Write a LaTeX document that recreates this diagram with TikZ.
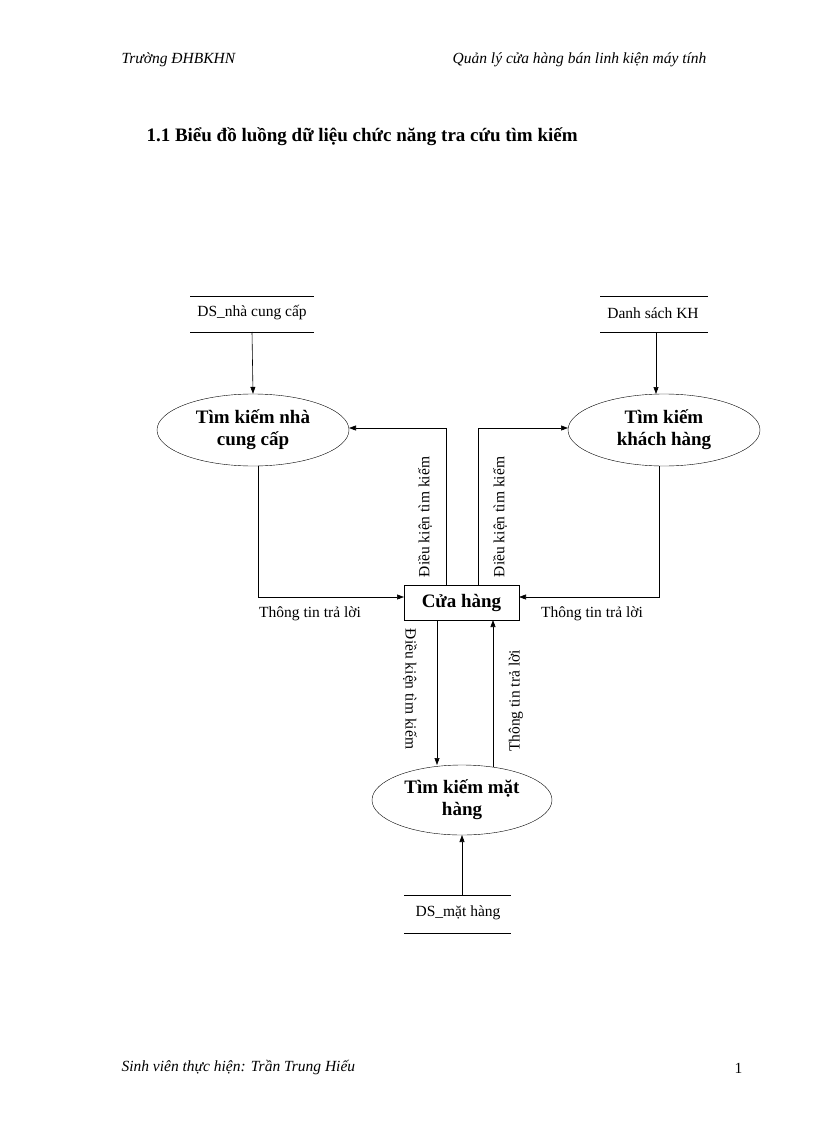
\documentclass[tikz,border=0pt]{standalone}
\usepackage{fontspec}
\setmainfont{Liberation Serif}
\usetikzlibrary{arrows.meta,shapes.geometric}
\begin{document}
\begin{tikzpicture}[x=1pt,y=-1pt,
  txt/.style={font=\fontsize{15.5}{18}\selectfont,inner sep=0},
  proc/.style={draw,ellipse,minimum width=192,minimum height=72,align=center,font=\fontsize{19}{22}\selectfont\bfseries,inner sep=0},
  flow/.style={-{Triangle[length=7pt,width=5pt]},line width=0.6pt},
  st/.style={line width=0.6pt}]
\useasboundingbox (0,0) rectangle (816,1123);
\node[font=\fontsize{15.5}{18}\selectfont\itshape,anchor=west] (h1) at (118,60) {Trường ĐHBKHN};
\node[font=\fontsize{15.5}{18}\selectfont\itshape,anchor=east] (h2) at (710,60) {Quản lý cửa hàng bán linh kiện máy tính};
\node[font=\fontsize{19}{22}\selectfont\bfseries,anchor=west] (t) at (143,137) {1.1 Biểu đồ luồng dữ liệu chức năng tra cứu tìm kiếm};
% stores
\draw[st] (190,296) -- (314,296) (190,332) -- (314,332);
\node[txt] (s1) at (252,313) {DS\_nhà cung cấp};
\draw[st] (600,296) -- (708,296) (600,332) -- (708,332);
\node[txt] (s2) at (653,313) {Danh sách KH};
\draw[st] (404,895) -- (511,895) (404,933) -- (511,933);
\node[txt] (s3) at (458,913) {DS\_mặt hàng};
% processes
\node[proc] (p1) at (253,430) {Tìm kiếm nhà\\cung cấp};
\node[proc] (p2) at (664,430) {Tìm kiếm\\khách hàng};
\node[proc,minimum width=180,minimum height=70] (p3) at (462,800) {Tìm kiếm mặt\\hàng};
\node[draw,line width=0.6pt,minimum width=115,minimum height=35,font=\fontsize{19}{22}\selectfont\bfseries,inner sep=0] (b) at (461.5,602.5) {Cửa hàng};
% flows
\draw[flow] (252,332) -- (p1.north);
\draw[flow] (656,332) -- (656,394);
\draw[flow] (462,895) -- (462,835);
\draw[flow] (446,585) -- (446,428) -- (349,428);
\draw[flow] (478,585) -- (478,428) -- (568,428);
\draw[flow] (258,466) -- (258,597) -- (404,597);
\draw[flow] (659,466) -- (659,597) -- (519,597);
\draw[flow] (437,620) -- (437,765);
\draw[flow] (493,767) -- (493,620);
\node[txt,rotate=90] (l1) at (425,517) {Điều kiện tìm kiếm};
\node[txt,rotate=90] (l2) at (500,517) {Điều kiện tìm kiếm};
\node[txt] (l3) at (310,614) {Thông tin trả lời};
\node[txt] (l4) at (592,614) {Thông tin trả lời};
\node[txt,rotate=-90] (l5) at (410,689) {Điều kiện tìm kiếm};
\node[txt,rotate=90] (l6) at (516,701) {Thông tin trả lời};
\node[font=\fontsize{15.5}{18}\selectfont\itshape,anchor=west] (f1) at (118,1068) {Sinh viên thực hiện: Trần Trung Hiếu};
\node[font=\fontsize{15.5}{18}\selectfont,anchor=east] (f2) at (746,1068) {1};
\end{tikzpicture}
\end{document}
